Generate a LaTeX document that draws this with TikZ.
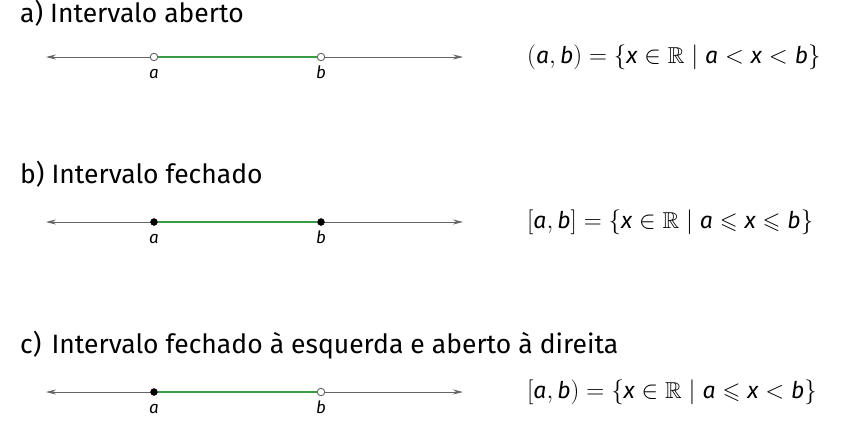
\documentclass[tikz,border=0pt]{standalone}
\usepackage{amssymb}
\usepackage{fontspec}
\setmainfont{Fira Sans}
\usetikzlibrary{arrows.meta}
\definecolor{segcol}{RGB}{58,155,70}
\definecolor{axcol}{RGB}{100,100,100}
\begin{document}
\begin{tikzpicture}[x=1pt,y=-1pt,
  axis/.style={draw=axcol,line width=0.9pt,{Stealth[length=10pt,width=5pt]}-{Stealth[length=10pt,width=5pt]}},
  seg/.style={draw=segcol,line width=2.8pt},
  opendot/.style={circle,draw=axcol,fill=white,line width=0.9pt,inner sep=0pt,minimum size=7.5pt},
  closeddot/.style={circle,draw=black,fill=black,inner sep=0pt,minimum size=7pt},
  title/.style={anchor=base west,inner sep=0pt,font=\fontsize{26.5}{30}\selectfont},
  lab/.style={anchor=base,inner sep=0pt,font=\fontsize{17}{20}\selectfont\itshape},
  formula/.style={anchor=west,inner sep=0pt,font=\fontsize{23}{27}\selectfont}]
\useasboundingbox (0,0) rectangle (843,431);
% a
\node[title] (ta) at (20,22) {a) Intervalo aberto};
\coordinate (la) at (46,57); \coordinate (ra) at (463,57);
\draw[axis] (la) -- (ra);
\node[opendot] (aa) at (154,57) {};
\node[opendot] (ba) at (321,57) {};
\draw[seg] (aa.east) -- (ba.west);
\node[lab] (laa) at (154,78) {a};
\node[lab] (lba) at (321,78) {b};
\node[formula] (fa) at (527,57) {$(\textit{a}, \textit{b}) = \{\textit{x} \in \mathbb{R} \mid \textit{a} < \textit{x} < \textit{b}\}$};
% b
\node[title] (tb) at (20,183) {b) Intervalo fechado};
\coordinate (lb) at (46,222); \coordinate (rb) at (463,222);
\draw[axis] (lb) -- (rb);
\node[closeddot] (ab) at (154,222) {};
\node[closeddot] (bb) at (321,222) {};
\draw[seg] (ab.east) -- (bb.west);
\node[lab] (lab2) at (154,243) {a};
\node[lab] (lbb) at (321,243) {b};
\node[formula] (fb) at (527,222) {$[\textit{a}, \textit{b}] = \{\textit{x} \in \mathbb{R} \mid \textit{a} \leqslant \textit{x} \leqslant \textit{b}\}$};
% c
\node[title] (tc) at (20,353) {c)\hspace{0.12em} Intervalo fechado à esquerda e aberto à direita};
\coordinate (lc) at (46,392); \coordinate (rc) at (463,392);
\draw[axis] (lc) -- (rc);
\node[closeddot] (ac) at (154,392) {};
\node[opendot] (bc) at (321,392) {};
\draw[seg] (ac.east) -- (bc.west);
\node[lab] (lac) at (154,413) {a};
\node[lab] (lbc) at (321,413) {b};
\node[formula] (fc) at (527,392) {$[\textit{a}, \textit{b}) = \{\textit{x} \in \mathbb{R} \mid \textit{a} \leqslant \textit{x} < \textit{b}\}$};
\end{tikzpicture}
\end{document}
